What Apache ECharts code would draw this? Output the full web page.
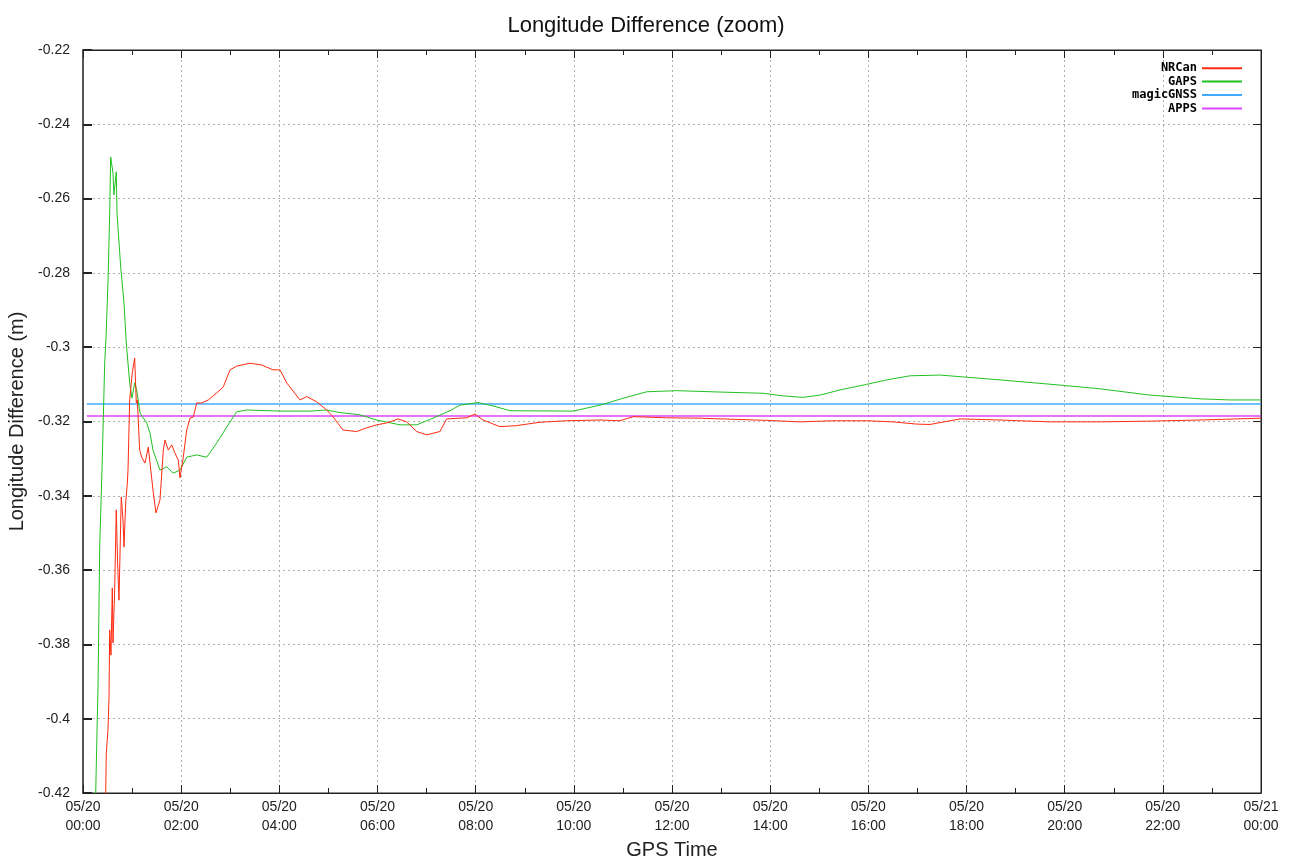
<!DOCTYPE html>
<html>
<head>
<meta charset="utf-8">
<script src="https://cdn.jsdelivr.net/npm/echarts@6/dist/echarts.min.js"></script>
<style>html,body{margin:0;padding:0;background:#fff}#c{width:1292px;height:865px}</style>
</head>
<body>
<div id="c"></div>
<script>
// Time in hours since 05/20 00:00, value in metres
const xTickLabels = ["05/20\n00:00","05/20\n02:00","05/20\n04:00","05/20\n06:00","05/20\n08:00","05/20\n10:00","05/20\n12:00","05/20\n14:00","05/20\n16:00","05/20\n18:00","05/20\n20:00","05/20\n22:00","05/21\n00:00"];
const seriesNames = ["NRCan","GAPS","magicGNSS","APPS"];

const nrcanTime = [0.44,0.462,0.475,0.509,0.530,0.544,0.570,0.597,0.611,0.646,0.678,0.703,0.733,0.780,0.815,0.835,0.870,0.903,0.917,0.951,1.004,1.053,1.086,1.106,1.155,1.196,1.263,1.330,1.432,1.487,1.569,1.636,1.671,1.738,1.807,1.874,1.942,1.976,2.043,2.113,2.180,2.247,2.316,2.418,2.553,2.724,2.858,2.995,3.131,3.402,3.641,3.871,4.014,4.150,4.421,4.558,4.761,4.965,5.093,5.297,5.576,5.780,5.984,6.187,6.418,6.595,6.799,7.002,7.273,7.409,7.817,7.986,8.149,8.496,8.836,9.311,9.855,10.533,10.941,11.206,11.892,12.571,13.243,13.929,14.608,15.280,15.967,16.503,16.985,17.256,17.868,18.683,19.701,20.720,21.739,22.757,24.0];
const nrcanValue = [-0.45,-0.42,-0.4092,-0.4030,-0.3942,-0.3761,-0.3829,-0.3648,-0.3796,-0.3648,-0.3438,-0.3573,-0.3681,-0.3403,-0.3465,-0.3538,-0.3419,-0.3366,-0.3331,-0.3142,-0.3069,-0.3029,-0.3150,-0.3142,-0.3277,-0.3296,-0.3312,-0.3269,-0.3392,-0.3446,-0.3411,-0.3277,-0.3250,-0.3277,-0.3263,-0.3285,-0.3304,-0.3352,-0.3296,-0.3223,-0.3191,-0.3188,-0.3150,-0.3150,-0.3142,-0.3123,-0.3107,-0.3061,-0.3051,-0.3043,-0.3048,-0.3061,-0.3061,-0.3096,-0.3142,-0.3133,-0.3147,-0.3169,-0.3187,-0.3223,-0.3227,-0.3217,-0.3209,-0.3204,-0.3193,-0.3201,-0.3227,-0.3236,-0.3227,-0.3193,-0.3190,-0.3180,-0.3196,-0.3214,-0.3211,-0.3202,-0.3198,-0.3196,-0.3198,-0.3187,-0.3190,-0.3191,-0.3194,-0.3197,-0.3201,-0.3198,-0.3198,-0.3201,-0.3207,-0.3208,-0.3193,-0.3196,-0.3201,-0.3201,-0.3199,-0.3196,-0.3191];

const gapsTime = [0.24,0.259,0.291,0.306,0.340,0.387,0.442,0.469,0.509,0.544,0.564,0.611,0.630,0.678,0.693,0.768,0.835,0.882,0.951,0.998,1.053,1.094,1.161,1.298,1.365,1.426,1.569,1.705,1.834,1.976,2.113,2.316,2.520,2.724,2.928,3.131,3.335,4.014,4.625,4.965,5.236,5.643,5.984,6.458,6.799,7.131,7.477,7.681,8.048,8.353,8.699,9.983,10.533,11.042,11.484,12.096,13.039,13.854,14.262,14.669,15.015,15.423,15.967,16.374,16.849,17.460,18.683,19.905,20.720,21.739,22.757,23.369,24.0];
const gapsValue = [-0.45,-0.42,-0.3998,-0.3915,-0.3538,-0.3331,-0.3043,-0.2973,-0.2827,-0.2639,-0.2488,-0.2531,-0.2590,-0.2528,-0.2639,-0.2784,-0.2881,-0.2989,-0.3096,-0.3137,-0.3096,-0.3115,-0.3177,-0.3204,-0.3231,-0.3277,-0.3331,-0.3322,-0.3339,-0.3331,-0.3296,-0.3290,-0.3296,-0.3258,-0.3215,-0.3174,-0.3169,-0.3172,-0.3172,-0.3169,-0.3176,-0.3182,-0.3196,-0.3209,-0.3209,-0.3191,-0.3171,-0.3156,-0.3149,-0.3158,-0.3171,-0.3172,-0.3156,-0.3136,-0.3120,-0.3117,-0.3121,-0.3124,-0.3131,-0.3135,-0.3129,-0.3115,-0.3100,-0.3088,-0.3077,-0.3075,-0.3088,-0.3102,-0.3112,-0.3129,-0.3139,-0.3142,-0.3142];

const magicTime = [0.08,24.0];
const magicValue = [-0.3153,-0.3153];
const appsTime = [0.08,24.0];
const appsValue = [-0.3185,-0.3185];

const colors = ["#ff2a10","#20c020","#40aaff","#dd44ff"];

function zip(t, v){ return t.map((x,i)=>[x,v[i]]); }

const chart = echarts.init(document.getElementById('c'), null, {renderer:'canvas'});
const font = "'Liberation Sans', Arial, sans-serif";
const gridLine = {show:true, lineStyle:{color:'#b0b0b0', type:[2,3], width:1}};

const option = {
  backgroundColor:'#fff',
  animation:false,
  title:{text:'Longitude Difference (zoom)', left:'center', top:10,
    textStyle:{fontFamily:font, fontSize:22, fontWeight:'normal', color:'#111'}},
  legend:{
    orient:'vertical', right:45, top:57, align:'right', itemWidth:40, itemHeight:2, itemGap:1,
    icon:'rect', data:seriesNames,
    textStyle:{fontFamily:"'DejaVu Sans Mono', monospace", fontWeight:'bold', fontSize:12, color:'#000', lineHeight:12.4}
  },
  grid:{left:83, right:31, top:50, bottom:72, outerBoundsMode:'none', containLabel:false, show:true, borderColor:'#222', borderWidth:1, backgroundColor:'transparent'},
  xAxis:[{
    type:'value', min:0, max:24, interval:2, position:'bottom',
    name:'GPS Time', nameLocation:'middle', nameGap:47,
    nameTextStyle:{fontFamily:font, fontSize:20, color:'#222'},
    axisLine:{show:true, onZero:false, lineStyle:{color:'#222', width:1}},
    axisTick:{show:true, inside:true, length:8, lineStyle:{color:'#222'}},
    minorTick:{show:true, splitNumber:2, length:5, lineStyle:{color:'#222'}},
    axisLabel:{fontFamily:font, fontSize:14, color:'#222', margin:5, lineHeight:19,
      formatter:(v)=>xTickLabels[Math.round(v/2)]},
    splitLine:gridLine
  },{
    type:'value', min:0, max:24, interval:2, position:'top',
    axisLine:{show:true, onZero:false, lineStyle:{color:'#222'}},
    axisTick:{show:true, inside:true, length:8, lineStyle:{color:'#222'}},
    minorTick:{show:true, splitNumber:2, length:5, lineStyle:{color:'#222'}},
    axisLabel:{show:false}, splitLine:{show:false}
  }],
  yAxis:[{
    type:'value', min:-0.42, max:-0.22, interval:0.02, position:'left',
    name:'Longitude Difference (m)', nameLocation:'middle', nameGap:50, nameRotate:90,
    nameTextStyle:{fontFamily:font, fontSize:20, color:'#222'},
    axisLine:{show:true, onZero:false, lineStyle:{color:'#555', width:2}},
    axisTick:{show:true, inside:true, length:9, lineStyle:{color:'#222', width:2}},
    axisLabel:{fontFamily:font, fontSize:14, color:'#222', margin:13,
      formatter:(v)=>String(parseFloat(v.toFixed(2)))},
    splitLine:gridLine
  },{
    type:'value', min:-0.42, max:-0.22, interval:0.02, position:'right',
    axisLine:{show:true, onZero:false, lineStyle:{color:'#222'}},
    axisTick:{show:true, inside:true, length:8, lineStyle:{color:'#222'}},
    axisLabel:{show:false}, splitLine:{show:false}
  }],
  series:[
    {name:seriesNames[0], type:'line', data:zip(nrcanTime,nrcanValue), showSymbol:false, symbol:'none', clip:true, color:colors[0], lineStyle:{width:1, color:colors[0]}, z:4},
    {name:seriesNames[1], type:'line', data:zip(gapsTime,gapsValue), showSymbol:false, symbol:'none', clip:true, color:colors[1], lineStyle:{width:1, color:colors[1]}, z:3},
    {name:seriesNames[2], type:'line', data:zip(magicTime,magicValue), showSymbol:false, symbol:'none', clip:true, color:colors[2], lineStyle:{width:1.5, color:colors[2]}, z:2},
    {name:seriesNames[3], type:'line', data:zip(appsTime,appsValue), showSymbol:false, symbol:'none', clip:true, color:colors[3], lineStyle:{width:1.5, color:colors[3]}, z:2}
  ]
};
chart.setOption(option);
</script>
</body>
</html>
